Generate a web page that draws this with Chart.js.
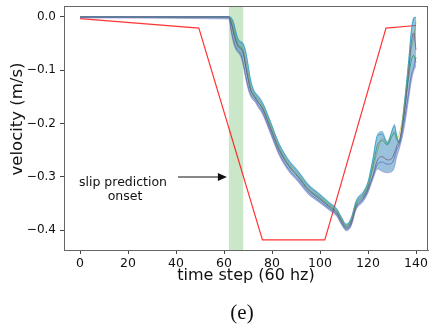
<!DOCTYPE html>
<html>
<head>
<meta charset="utf-8">
<script src="https://cdn.jsdelivr.net/npm/chart.js@4/dist/chart.umd.min.js"></script>
<style>
html,body{margin:0;padding:0;background:#fff;}
#wrap{width:429px;height:328px;position:relative;}
</style>
</head>
<body>
<div id="wrap"><canvas id="c" width="429" height="328"></canvas></div>
<script>
// ---- data ----
const xTicks = [0, 20, 40, 60, 80, 100, 120, 140];
const yTicks = [-0.4, -0.3, -0.2, -0.1, 0.0];

// red reference line
const refT = [0, 49.5, 76, 102, 127.5, 140];
const refV = [-0.003, -0.021, -0.418, -0.418, -0.021, -0.016];

// slip prediction onset window
const onsetStart = 62;
const onsetEnd = 68;

// prediction time steps
const predT = [0, 62, 63, 64, 65, 66, 67, 68, 69, 70, 71, 72, 73, 74, 76, 79, 83, 87, 91, 95, 100, 104, 107, 109, 111, 113, 115, 118, 120, 122, 124, 126, 128, 130, 131, 132, 133, 135, 137, 138, 139, 140];

// uncertainty band
const bandHi = [0.002, 0.002, 0, -0.008, -0.025, -0.040, -0.045, -0.048, -0.060, -0.085, -0.112, -0.130, -0.140, -0.145, -0.158, -0.190, -0.236, -0.267, -0.288, -0.312, -0.331, -0.347, -0.358, -0.374, -0.387, -0.374, -0.343, -0.326, -0.306, -0.262, -0.218, -0.214, -0.232, -0.210, -0.200, -0.218, -0.232, -0.160, -0.070, -0.020, 0.000, 0.000];
const bandLo = [-0.002, -0.004, -0.030, -0.050, -0.062, -0.068, -0.075, -0.092, -0.115, -0.135, -0.148, -0.155, -0.160, -0.168, -0.182, -0.215, -0.260, -0.290, -0.310, -0.332, -0.349, -0.363, -0.374, -0.390, -0.401, -0.392, -0.362, -0.346, -0.330, -0.305, -0.285, -0.290, -0.292, -0.290, -0.282, -0.262, -0.248, -0.210, -0.152, -0.122, -0.102, -0.092];

// individual predictions
const predCyan   = [0, 0, -0.002, -0.012, -0.030, -0.044, -0.048, -0.052, -0.065, -0.090, -0.118, -0.134, -0.143, -0.149, -0.161, -0.193, -0.239, -0.270, -0.291, -0.315, -0.334, -0.350, -0.361, -0.377, -0.390, -0.378, -0.346, -0.330, -0.310, -0.268, -0.222, -0.220, -0.238, -0.214, -0.204, -0.224, -0.236, -0.168, -0.080, -0.030, -0.004, 0.000];
const predGreen  = [0, 0, -0.010, -0.028, -0.045, -0.055, -0.058, -0.066, -0.090, -0.114, -0.134, -0.144, -0.150, -0.157, -0.170, -0.203, -0.248, -0.278, -0.299, -0.322, -0.340, -0.355, -0.366, -0.382, -0.394, -0.383, -0.352, -0.336, -0.318, -0.280, -0.240, -0.232, -0.240, -0.224, -0.218, -0.230, -0.236, -0.180, -0.110, -0.082, -0.072, -0.085];
const predRed    = [0, 0, -0.012, -0.030, -0.046, -0.056, -0.060, -0.068, -0.092, -0.116, -0.136, -0.146, -0.152, -0.159, -0.172, -0.205, -0.250, -0.280, -0.301, -0.324, -0.342, -0.357, -0.368, -0.384, -0.396, -0.386, -0.356, -0.340, -0.322, -0.298, -0.268, -0.262, -0.268, -0.265, -0.255, -0.242, -0.232, -0.185, -0.100, -0.050, -0.030, -0.062];
const predPurple = [0, 0, -0.025, -0.045, -0.058, -0.064, -0.070, -0.086, -0.110, -0.130, -0.144, -0.151, -0.156, -0.164, -0.178, -0.211, -0.256, -0.286, -0.306, -0.328, -0.346, -0.360, -0.371, -0.387, -0.398, -0.389, -0.358, -0.342, -0.325, -0.300, -0.276, -0.272, -0.276, -0.274, -0.264, -0.248, -0.240, -0.198, -0.140, -0.110, -0.095, -0.075];
const predOlive  = [0, 0, -0.006, -0.020, -0.040, -0.052, -0.056, -0.060, -0.080, -0.105, -0.128, -0.140, -0.147, -0.153, -0.166, -0.198, -0.244, -0.274, -0.295, -0.318, -0.337, -0.352, -0.363, -0.379, -0.392, -0.380, -0.349, -0.333, -0.314, -0.285, -0.250, -0.228, -0.236, -0.222, -0.215, -0.228, -0.220, -0.172, -0.095, -0.060, -0.040, -0.008];

// ---- build ----
const pts = (xs, ys) => xs.map((x, i) => ({x: x, y: ys[i]}));
const FONT = "'DejaVu Sans', sans-serif";

function lineDs(vals, color) {
  return {data: pts(predT, vals), borderColor: color, borderWidth: 1, pointRadius: 0, fill: false, cubicInterpolationMode: 'monotone'};
}

const framePlugin = {
  id: 'frame',
  beforeDatasetsDraw(chart) {
    const {ctx, chartArea: a, scales: {x}} = chart;
    const x0 = x.getPixelForValue(onsetStart), x1 = x.getPixelForValue(onsetEnd);
    ctx.save();
    ctx.fillStyle = 'rgba(44,160,44,0.25)';
    ctx.fillRect(x0, a.top, x1 - x0, a.bottom - a.top);
    ctx.restore();
  },
  afterDraw(chart) {
    const {ctx, chartArea: a, scales: {x, y}} = chart;
    ctx.save();
    ctx.strokeStyle = '#666';
    ctx.lineWidth = 1;
    ctx.strokeRect(a.left + 0.5, a.top + 0.5, a.right - a.left - 1, a.bottom - a.top);
    // axis titles
    ctx.fillStyle = '#111';
    ctx.textAlign = 'center';
    ctx.textBaseline = 'middle';
    ctx.font = '16px ' + FONT;
    ctx.fillText('time step (60 hz)', (a.left + a.right) / 2, 276);
    ctx.save();
    ctx.translate(18, 119);
    ctx.rotate(-Math.PI / 2);
    ctx.font = '16.5px ' + FONT;
    ctx.fillText('velocity (m/s)', 0, 0);
    ctx.restore();
    // caption
    ctx.font = "21px 'Liberation Serif', 'Times New Roman', serif";
    ctx.fillText('(e)', 242, 313);
    // annotation
    ctx.font = '12.5px ' + FONT;
    ctx.fillText('slip prediction', 123, 183);
    ctx.fillText('onset', 125, 197);
    const ay = 177;
    const axs = 178, axe = x.getPixelForValue(onsetStart) - 2;
    ctx.strokeStyle = '#111';
    ctx.lineWidth = 1.2;
    ctx.beginPath(); ctx.moveTo(axs, ay); ctx.lineTo(axe - 6, ay); ctx.stroke();
    ctx.fillStyle = '#111';
    ctx.beginPath();
    ctx.moveTo(axe, ay); ctx.lineTo(axe - 9, ay - 4); ctx.lineTo(axe - 9, ay + 4); ctx.closePath(); ctx.fill();
    ctx.restore();
  }
};

new Chart(document.getElementById('c'), {
  type: 'line',
  data: {
    datasets: [
      {data: pts(predT, bandHi), borderWidth: 0, borderColor: 'rgba(0,0,0,0)', pointRadius: 0, fill: '+1', backgroundColor: 'rgba(31,119,180,0.45)', cubicInterpolationMode: 'monotone'},
      {data: pts(predT, bandLo), borderWidth: 1, borderColor: 'rgba(148,103,189,0.45)', pointRadius: 0, fill: false, cubicInterpolationMode: 'monotone'},
      lineDs(predPurple, 'rgba(148,103,189,0.8)'),
      lineDs(predRed, 'rgba(180,70,60,0.8)'),
      lineDs(predOlive, 'rgba(188,189,34,0.7)'),
      lineDs(predGreen, 'rgba(44,160,44,0.75)'),
      lineDs(predCyan, 'rgba(23,190,207,0.75)'),
      {data: pts(refT, refV), borderColor: 'rgba(255,0,0,0.8)', borderWidth: 1.2, pointRadius: 0, fill: false, tension: 0}
    ]
  },
  options: {
    responsive: false,
    animation: false,
    devicePixelRatio: 1,
    layout: {padding: {top: 6, right: 1, left: 0, bottom: 0}},
    plugins: {legend: {display: false}, tooltip: {enabled: false}},
    scales: {
      x: {
        type: 'linear', min: -6.7, max: 145,
        afterFit(s) { s.height = 78; s.paddingLeft = 0; s.paddingRight = 0; },
        afterBuildTicks(s) { s.ticks = xTicks.map(v => ({value: v})); },
        grid: {display: true, drawOnChartArea: false, drawTicks: true, tickLength: 4, color: '#444'},
        border: {display: true, color: '#666'},
        ticks: {font: {family: FONT, size: 12.5}, color: '#111', padding: 2, maxRotation: 0, callback: v => String(v)}
      },
      y: {
        type: 'linear', min: -0.437, max: 0.0206,
        afterFit(s) { s.width = 64; s.paddingTop = 0; s.paddingBottom = 0; },
        afterBuildTicks(s) { s.ticks = yTicks.map(v => ({value: v})); },
        grid: {display: true, drawOnChartArea: false, drawTicks: true, tickLength: 4, color: '#444'},
        border: {display: true, color: '#666'},
        ticks: {font: {family: FONT, size: 12}, color: '#111', padding: 4, callback: v => v.toFixed(1).replace('-', '\u2212').replace('\u22120.0', '0.0')}
      }
    }
  },
  plugins: [framePlugin]
});
</script>
</body>
</html>
